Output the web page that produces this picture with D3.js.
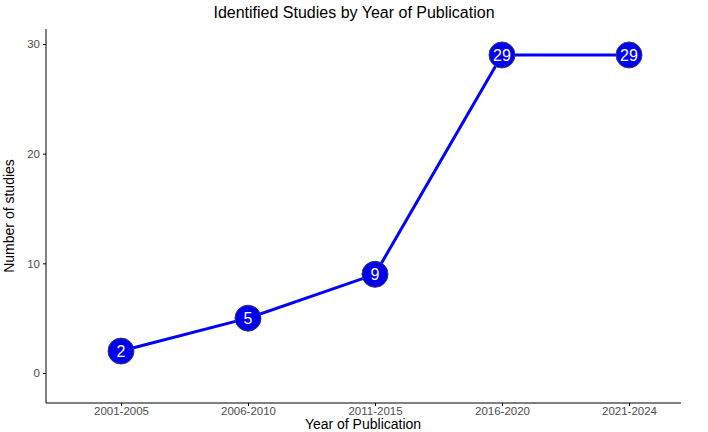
<!DOCTYPE html>
<html><head><meta charset="utf-8">
<script src="https://cdn.jsdelivr.net/npm/d3@7"></script>
<style>body{margin:0;background:#fff}</style></head>
<body><svg id="c" width="708" height="432"></svg>
<script>
const categories=["2001-2005","2006-2010","2011-2015","2016-2020","2021-2024"];
const values=[2,5,9,29,29];
const yTicks=[0,10,20,30];
const svg=d3.select("#c");
const font="Liberation Sans, Arial, sans-serif";
const x=d3.scalePoint().domain(categories).range([121,629]);
const y=d3.scaleLinear().domain([0,30]).range([373,44]);
const gx=svg.append("g").attr("transform","translate(0,403)")
 .call(d3.axisBottom(x).tickSize(3).tickPadding(1));
gx.select(".domain").attr("d","M46,0H681").attr("stroke","#000");
gx.attr("font-family",font).attr("font-size",11.5);
gx.selectAll("text").attr("fill","#4d4d4d");
const gy=svg.append("g").attr("transform","translate(46,0)")
 .call(d3.axisLeft(y).tickValues(yTicks).tickSize(3).tickPadding(3));
gy.select(".domain").attr("d","M0,29V403").attr("stroke","#000");
gy.attr("font-family",font).attr("font-size",11.5);
gy.selectAll("text").attr("fill","#4d4d4d");
svg.append("text").attr("x",354).attr("y",18).attr("text-anchor","middle").attr("font-family",font).attr("font-size",16).text("Identified Studies by Year of Publication");
svg.append("text").attr("x",363).attr("y",429).attr("text-anchor","middle").attr("font-family",font).attr("font-size",14).text("Year of Publication");
svg.append("text").attr("transform","translate(14,216) rotate(-90)").attr("text-anchor","middle").attr("font-family",font).attr("font-size",14).text("Number of studies");
const data=categories.map((c,i)=>({c,v:values[i]}));
svg.append("path").datum(data).attr("fill","none").attr("stroke","#0000ff").attr("stroke-width",3)
 .attr("d",d3.line().x(d=>x(d.c)).y(d=>y(d.v)));
svg.selectAll("circle.p").data(data).join("circle").attr("cx",d=>x(d.c)).attr("cy",d=>y(d.v)).attr("r",13)
 .attr("fill","#0000ee").attr("stroke","#3a3a6a").attr("stroke-width",1);
svg.selectAll("text.l").data(data).join("text").attr("x",d=>x(d.c)).attr("y",d=>y(d.v)+6)
 .attr("text-anchor","middle").attr("fill","#fff").attr("font-family",font).attr("font-size",16).text(d=>d.v);
</script></body></html>
